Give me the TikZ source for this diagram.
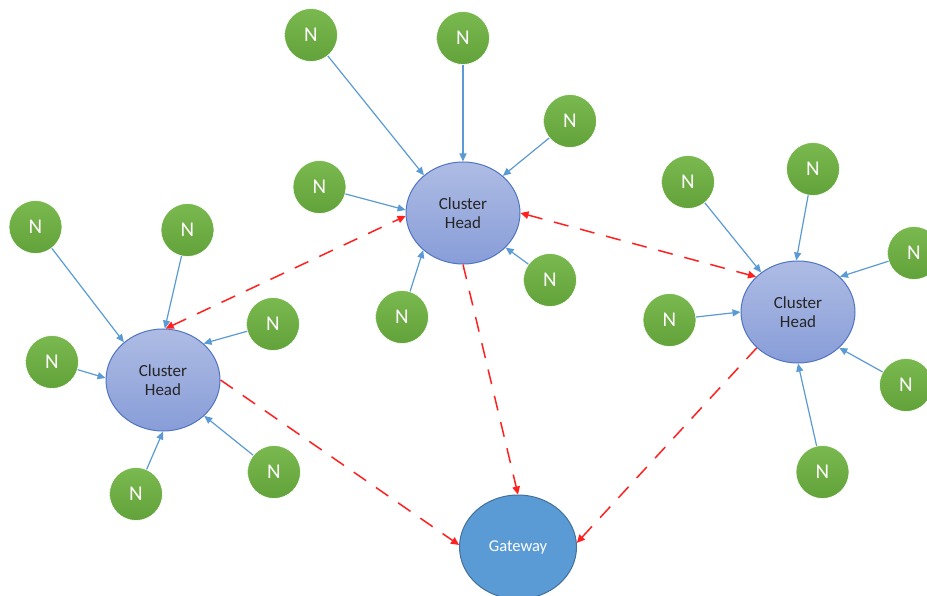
\documentclass[tikz,border=0pt]{standalone}
\usepackage{fontspec}
\setmainfont{Carlito}
\usetikzlibrary{shapes.geometric,arrows.meta}
\definecolor{nfilltop}{HTML}{7AB94F}
\definecolor{nfillbot}{HTML}{62A23A}
\definecolor{chtop}{HTML}{AEBCE4}
\definecolor{chbot}{HTML}{889DD8}
\definecolor{chborder}{HTML}{4F74C4}
\definecolor{gwfill}{HTML}{5B9BD5}
\definecolor{gwborder}{HTML}{41719C}
\definecolor{linkblue}{HTML}{5B9BD5}
\definecolor{linkred}{HTML}{FF2020}
\definecolor{chtext}{HTML}{262626}
\tikzset{
  nnode/.style={circle, minimum size=53pt, inner sep=0pt, top color=nfilltop, bottom color=nfillbot, draw=white, line width=0.6pt, text=white, font=\fontsize{21}{25}\selectfont},
  chnode/.style={ellipse, minimum width=114pt, minimum height=102pt, inner sep=0pt, top color=chtop, bottom color=chbot, draw=chborder, line width=1pt, text=chtext, align=center, font=\fontsize{17}{19.5}\selectfont},
  gwnode/.style={ellipse, minimum width=117pt, minimum height=104pt, inner sep=0pt, fill=gwfill, draw=gwborder, line width=1pt, text=white, font=\fontsize{16.5}{19}\selectfont},
  bluelink/.style={draw=linkblue, line width=1.2pt, -{Triangle[length=8pt,width=7pt]}},
  redlink/.style={draw=linkred, line width=1.5pt, dash pattern=on 15pt off 12pt, -{Triangle[length=8pt,width=7.5pt]}},
  redboth/.style={redlink, {Triangle[length=8pt,width=7.5pt]}-{Triangle[length=8pt,width=7.5pt]}}
}
\begin{document}
\begin{tikzpicture}[x=1pt,y=-1pt]
\useasboundingbox (0,0) rectangle (927,596);
\fill[white] (0,0) rectangle (927,596);
\clip (0,0) rectangle (927,596);

% cluster heads and gateway
\node[chnode] (chL) at (163,380) {Cluster\\Head};
\node[chnode] (chT) at (463,213) {Cluster\\Head};
\node[chnode] (chR) at (798,312) {Cluster\\Head};
\node[gwnode] (gw) at (518,547) {Gateway};

% left group
\node[nnode] (nL1) at (35.5,227) {N};
\node[nnode] (nL2) at (187.5,230) {N};
\node[nnode] (nL3) at (273,324) {N};
\node[nnode] (nL4) at (52,362) {N};
\node[nnode] (nL5) at (274,472) {N};
\node[nnode] (nL6) at (136,494) {N};

% top group
\node[nnode] (nT1) at (311,35) {N};
\node[nnode] (nT2) at (463,38) {N};
\node[nnode] (nT3) at (570,121) {N};
\node[nnode] (nT4) at (319.5,187) {N};
\node[nnode] (nT5) at (550,280) {N};
\node[nnode] (nT6) at (402,317) {N};

% right group
\node[nnode] (nR1) at (688,182) {N};
\node[nnode] (nR2) at (813,169) {N};
\node[nnode] (nR3) at (914,253) {N};
\node[nnode] (nR4) at (669.5,320) {N};
\node[nnode] (nR5) at (906,385) {N};
\node[nnode] (nR6) at (822.5,472) {N};

% blue links
\draw[bluelink] (nL1) -- (chL.136);
\draw[bluelink] (nL2) -- (chL.88);
\draw[bluelink] (nL3) -- (chL.42);
\draw[bluelink] (nL4) -- (chL.178);
\draw[bluelink] (nL5) -- (chL.-41);
\draw[bluelink] (nL6) -- (chL.-90);

\draw[bluelink] (nT1) -- (chT.136);
\draw[bluelink] (nT2) -- (chT.90);
\draw[bluelink] (nT3) -- (chT.43);
\draw[bluelink] (nT4) -- (chT.177);
\draw[bluelink] (nT5) -- (chT.-39);
\draw[bluelink] (nT6) -- (chT.223);

\draw[bluelink] (nR1) -- (chR.133);
\draw[bluelink] (nR2) -- (chR.92);
\draw[bluelink] (nR3) -- (chR.40);
\draw[bluelink] (nR4) -- (chR.180);
\draw[bluelink] (nR5) -- (chR.-41);
\draw[bluelink] (nR6) -- (chR.-90);

% red links
\draw[redboth] (chL.87) -- (chT.183);
\draw[redboth] (chT.0) -- (chR.140);
\draw[redlink] (chT.-90) -- (gw.90);
\draw[redlink] (chL.0) -- (gw.178);
\draw[redlink] (chR.221) -- (gw.4);
\end{tikzpicture}
\end{document}
